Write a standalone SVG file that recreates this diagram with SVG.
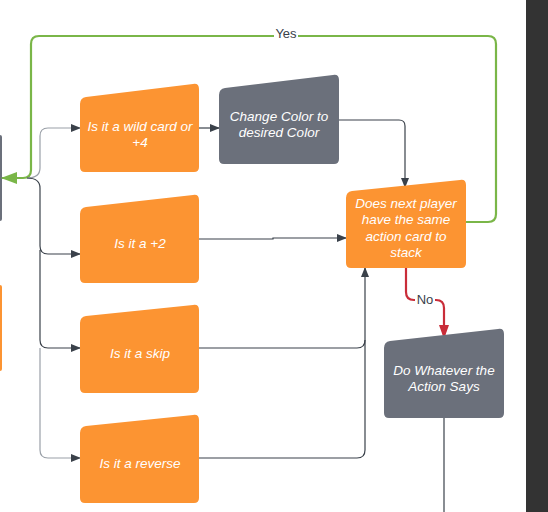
<svg xmlns="http://www.w3.org/2000/svg" width="548" height="512" viewBox="0 0 548 512">
<style>
.or{fill:#fc9432}
.gr{fill:#6b707b}
.t{font-family:"Liberation Sans",Arial,sans-serif;font-style:italic;font-size:13.5px;fill:#ffffff;text-anchor:middle}
.c{fill:none;stroke:#3a414a;stroke-width:1.2}
.cl{fill:none;stroke:#9aa0a8;stroke-width:1.2}
.g{fill:none;stroke:#7ab648;stroke-width:2.2}
.r{fill:none;stroke:#c92d39;stroke-width:2.2}
.lbl{font-family:"Liberation Sans",Arial,sans-serif;font-size:13px;fill:#3a414a;text-anchor:middle}
</style>
<defs>
<marker id="a" markerWidth="10" markerHeight="8" refX="9" refY="4" orient="auto" markerUnits="userSpaceOnUse"><path d="M0,0 L10,4 L0,8 Z" fill="#3a414a"/></marker>
<marker id="ag" markerWidth="16" markerHeight="12" refX="15" refY="6" orient="auto" markerUnits="userSpaceOnUse"><path d="M0,0 L16,6 L0,12 Z" fill="#7ab648"/></marker>
<marker id="ar" markerWidth="14" markerHeight="10" refX="13" refY="5" orient="auto" markerUnits="userSpaceOnUse"><path d="M0,0 L14,5 L0,10 Z" fill="#c92d39"/></marker>
</defs>
<rect width="548" height="512" fill="#ffffff"/>
<rect x="526" y="0" width="22" height="512" fill="#333333"/>
<rect x="-4" y="135" width="6" height="86" rx="2" fill="#6b707b"/>
<rect x="-4" y="285" width="6" height="86" rx="2" fill="#fc9432"/>
<g id="connectors">
<path class="g" d="M466,222 H488 Q496,222 496,214 V44 Q496,36 488,36 H39 Q31,36 31,44 V170 Q31,178 23,178 H2" marker-end="url(#ag)"/>
<rect x="274" y="27" width="24" height="14" fill="#ffffff"/>
<text class="lbl" x="286" y="38">Yes</text>
<path class="cl" d="M27,178 Q40,178 40,168 V136 Q40,128 48,128 H80" marker-end="url(#a)"/>
<path class="c" d="M27,178 Q40,178 40,188 V246 Q40,254 48,254 H80" marker-end="url(#a)"/>
<path class="c" d="M40,250 V340 Q40,348 48,348 H80" marker-end="url(#a)"/>
<path class="cl" d="M40,348 V450 Q40,458 48,458 H80" marker-end="url(#a)"/>
<path class="c" d="M199,128 H219" marker-end="url(#a)"/>
<path class="c" d="M339,120 H399 Q405,120 405,126 V187" marker-end="url(#a)"/>
<path class="c" d="M199,239 H273 V238 H346" marker-end="url(#a)"/>
<path class="c" d="M199,348 H357 Q365,348 365,340 V268" marker-end="url(#a)"/>
<path class="c" d="M199,458 H357 Q365,458 365,450 V340"/>
<path class="r" d="M406,268 V292 Q406,300 414,300 H436 Q444,300 444,308 V338" marker-end="url(#ar)"/>
<rect x="415" y="293" width="20" height="14" fill="#ffffff"/>
<text class="lbl" x="425" y="304">No</text>
<path class="c" d="M444,418 V512" stroke="#5a606a"/>
</g>
<g id="wild">
<path class="or" d="M80,104 Q80,98 86,97 L193,84 Q199,83 199,89 V167 Q199,172 194,172 H85 Q80,172 80,167 Z"/>
<text class="t" x="140" y="131">Is it a wild card or</text>
<text class="t" x="140" y="147">+4</text>
</g>
<g id="change">
<path class="gr" d="M219,95 Q219,89 225,88 L333,75 Q339,74 339,80 V159 Q339,164 334,164 H224 Q219,164 219,159 Z"/>
<text class="t" x="279" y="121">Change Color to</text>
<text class="t" x="279" y="137">desired Color</text>
</g>
<g id="plus2">
<path class="or" d="M80,214 Q80,208 86,207 L193,195 Q199,194 199,200 V278 Q199,283 194,283 H85 Q80,283 80,278 Z"/>
<text class="t" x="140" y="248">Is it a +2</text>
</g>
<g id="skip">
<path class="or" d="M80,323 Q80,317 86,316 L193,305 Q199,304 199,310 V388 Q199,393 194,393 H85 Q80,393 80,388 Z"/>
<text class="t" x="140" y="358">Is it a skip</text>
</g>
<g id="reverse">
<path class="or" d="M80,433 Q80,427 86,426 L193,415 Q199,414 199,420 V498 Q199,503 194,503 H85 Q80,503 80,498 Z"/>
<text class="t" x="140" y="468">Is it a reverse</text>
</g>
<g id="next">
<path class="or" d="M346,198 Q346,192 352,191 L460,180 Q466,179 466,185 V263 Q466,268 461,268 H351 Q346,268 346,263 Z"/>
<text class="t" x="406" y="208">Does next player</text>
<text class="t" x="406" y="224">have the same</text>
<text class="t" x="406" y="241">action card to</text>
<text class="t" x="406" y="257">stack</text>
</g>
<g id="action">
<path class="gr" d="M384,348 Q384,342 390,341 L498,329 Q504,328 504,334 V413 Q504,418 499,418 H389 Q384,418 384,413 Z"/>
<text class="t" x="444" y="375">Do Whatever the</text>
<text class="t" x="444" y="391">Action Says</text>
</g>
</svg>
